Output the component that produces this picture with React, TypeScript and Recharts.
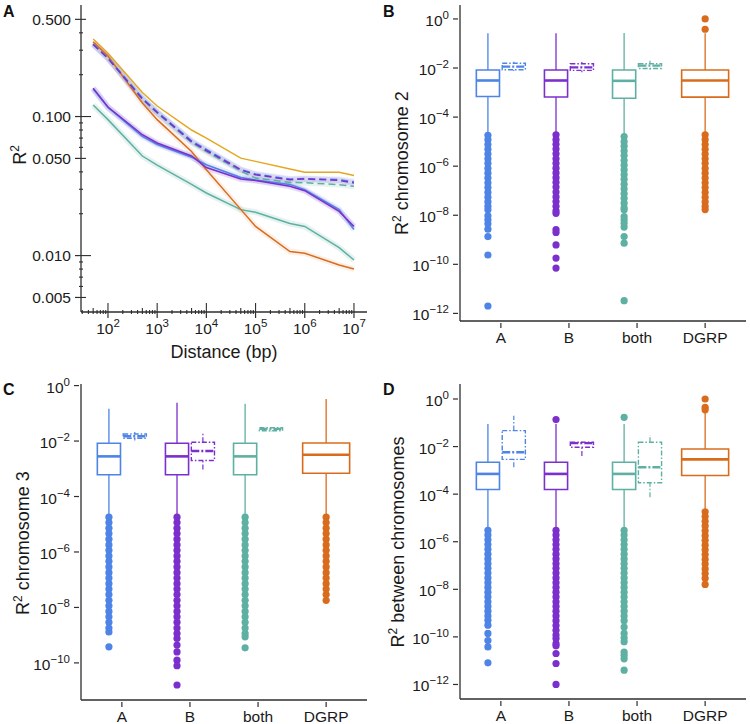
import React from 'react';
import {
  LineChart,
  Line,
  ComposedChart,
  XAxis,
  YAxis,
  Scatter,
  ReferenceArea,
  ReferenceLine,
} from 'recharts';

const FONT = '"Liberation Sans", Arial, Helvetica, sans-serif';
const INK = '#2e2e2e';

const BLUE = '#4d84e6';
const PURPLE = '#7b2fcd';
const TEAL = '#5eb0a3';
const ORANGE = '#d96c1c';
const GOLD = '#e6a620';

// ---- panel A: LD decay ----
const distances = [50, 100, 500, 1000, 5000, 10000, 50000, 100000, 500000, 1000000, 5000000, 10000000];
const goldR2 = [0.361, 0.285, 0.149, 0.119, 0.08, 0.07, 0.0502, 0.0476, 0.0419, 0.0398, 0.0398, 0.0377];
const dgrpR2 = [0.345, 0.272, 0.125, 0.095, 0.056, 0.0414, 0.0215, 0.0162, 0.0107, 0.0104, 0.00855, 0.008];
const blueDashR2 = [0.333, 0.264, 0.136, 0.108, 0.067, 0.058, 0.0416, 0.0386, 0.0355, 0.0358, 0.0352, 0.034];
const purpleDashR2 = [0.33, 0.262, 0.134, 0.107, 0.066, 0.057, 0.0414, 0.0381, 0.0351, 0.0356, 0.0347, 0.0333];
const tealDashR2 = [0.332, 0.262, 0.133, 0.106, 0.065, 0.056, 0.0405, 0.0361, 0.0336, 0.0334, 0.0324, 0.0315];
const purpleR2 = [0.16, 0.117, 0.074, 0.0645, 0.052, 0.043, 0.0355, 0.0347, 0.0315, 0.0293, 0.0208, 0.0162];
const blueR2 = [0.158, 0.116, 0.072, 0.063, 0.051, 0.045, 0.0365, 0.035, 0.0325, 0.0298, 0.0214, 0.0154];
const tealR2 = [0.121, 0.095, 0.052, 0.0447, 0.0325, 0.0282, 0.0214, 0.0205, 0.017, 0.0162, 0.0114, 0.0093];

const yTicksA = [0.5, 0.4, 0.3, 0.2, 0.1, 0.09, 0.08, 0.07, 0.06, 0.05, 0.04, 0.03, 0.02, 0.01, 0.009, 0.008, 0.007, 0.006, 0.005];
const yLabelsA = [0.5, 0.1, 0.05, 0.01, 0.005];
const xDecadesA = [100, 1000, 10000, 100000, 1000000, 10000000];

// ---- panels B-D: box plots ----
const groups = ['A', 'B', 'both', 'DGRP'];
// [lower whisker, q1, median, q3, upper whisker]
const chr2Main = [
  [2.0e-5, 6.9e-4, 3.1e-3, 8.3e-3, 0.26],
  [2.1e-5, 6.6e-4, 3.1e-3, 8.3e-3, 0.26],
  [1.8e-5, 5.9e-4, 3.0e-3, 8.3e-3, 0.27],
  [2.1e-5, 6.5e-4, 3.1e-3, 8.3e-3, 0.26],
];
const chr2Inset = [
  [0.0075, 0.0085, 0.0114, 0.0157, 0.018],
  [0.0068, 0.008, 0.0106, 0.015, 0.0175],
  [0.0085, 0.0095, 0.0125, 0.015, 0.02],
];
const chr2OutA = [1.8e-5, 1.2e-5, 7.6e-6, 4.9e-6, 3.1e-6, 2.0e-6, 1.3e-6, 8.1e-7, 5.2e-7, 3.3e-7, 2.1e-7, 1.35e-7, 8.5e-8, 5.4e-8, 3.5e-8, 2.3e-8, 1.66e-8, 9.5e-9, 6.5e-9, 4.5e-9, 2.7e-9, 1.35e-9, 2.4e-10, 2.0e-12];
const chr2OutB = [1.9e-5, 1.2e-5, 7.8e-6, 5.0e-6, 3.2e-6, 2.0e-6, 1.3e-6, 8.3e-7, 5.3e-7, 3.4e-7, 2.2e-7, 1.4e-7, 8.8e-8, 5.6e-8, 3.6e-8, 2.3e-8, 1.5e-8, 1.2e-8, 2.6e-9, 2.0e-9, 6.2e-10, 1.8e-10, 7e-11];
const chr2OutBoth = [1.6e-5, 1.0e-5, 6.5e-6, 4.2e-6, 2.7e-6, 1.7e-6, 1.1e-6, 7.0e-7, 4.5e-7, 2.9e-7, 1.85e-7, 1.2e-7, 7.6e-8, 4.9e-8, 3.1e-8, 2.0e-8, 1.66e-8, 8.9e-9, 6.5e-9, 4.7e-9, 3.3e-9, 1.35e-9, 7.3e-10, 3.3e-12];
const chr2OutDGRP = [1.0, 0.38, 1.9e-5, 1.2e-5, 7.6e-6, 4.9e-6, 3.1e-6, 2.0e-6, 1.3e-6, 8.1e-7, 5.2e-7, 3.3e-7, 2.1e-7, 1.35e-7, 8.5e-8, 5.4e-8, 3.5e-8, 2.3e-8, 1.7e-8];

const chr3Main = [
  [2.1e-5, 6.1e-4, 2.8e-3, 8.3e-3, 0.145],
  [2.1e-5, 6.1e-4, 2.8e-3, 8.3e-3, 0.24],
  [2.1e-5, 6.1e-4, 2.8e-3, 8.3e-3, 0.22],
  [2.1e-5, 6.9e-4, 3.2e-3, 8.5e-3, 0.33],
];
const chr3Inset = [
  [0.0105, 0.0126, 0.0149, 0.018, 0.021],
  [0.00095, 0.002, 0.0044, 0.0091, 0.019],
  [0.022, 0.0234, 0.0275, 0.03, 0.032],
];
const chr3OutA = [1.8e-5, 1.15e-5, 7.2e-6, 4.6e-6, 2.9e-6, 1.8e-6, 1.15e-6, 7.2e-7, 4.6e-7, 2.9e-7, 1.8e-7, 1.15e-7, 7.2e-8, 4.6e-8, 2.9e-8, 1.8e-8, 1.15e-8, 7.2e-9, 4.6e-9, 2.9e-9, 1.8e-9, 1.3e-9, 3.8e-10];
const chr3OutB = [1.8e-5, 1.15e-5, 7.2e-6, 4.6e-6, 2.9e-6, 1.8e-6, 1.15e-6, 7.2e-7, 4.6e-7, 2.9e-7, 1.8e-7, 1.15e-7, 7.2e-8, 4.6e-8, 2.9e-8, 1.8e-8, 1.15e-8, 7.2e-9, 4.6e-9, 2.9e-9, 1.8e-9, 1.15e-9, 7.6e-10, 4.4e-10, 2.5e-10, 1.26e-10, 7.9e-11, 1.6e-11];
const chr3OutBoth = [1.8e-5, 1.15e-5, 7.2e-6, 4.6e-6, 2.9e-6, 1.8e-6, 1.15e-6, 7.2e-7, 4.6e-7, 2.9e-7, 1.8e-7, 1.15e-7, 7.2e-8, 4.6e-8, 2.9e-8, 1.8e-8, 1.15e-8, 7.2e-9, 4.6e-9, 2.9e-9, 1.8e-9, 1.15e-9, 8.7e-10, 3.5e-10];
const chr3OutDGRP = [1.8e-5, 1.15e-5, 7.2e-6, 4.6e-6, 2.9e-6, 1.8e-6, 1.15e-6, 7.2e-7, 4.6e-7, 2.9e-7, 1.8e-7, 1.15e-7, 7.2e-8, 4.6e-8, 2.9e-8, 1.8e-8];

const betweenMain = [
  [3.5e-6, 1.58e-4, 7.1e-4, 2.2e-3, 0.089],
  [3.5e-6, 1.58e-4, 7.1e-4, 2.2e-3, 0.089],
  [3.5e-6, 1.58e-4, 7.1e-4, 2.2e-3, 0.089],
  [2.0e-5, 6.1e-4, 2.9e-3, 7.9e-3, 0.26],
];
const betweenInset = [
  [0.00135, 0.0029, 0.0058, 0.047, 0.2],
  [0.004, 0.0094, 0.0139, 0.0152, 0.016],
  [7.4e-5, 3.0e-4, 0.00135, 0.0152, 0.031],
];
const betweenOutA = [3.0e-6, 1.9e-6, 1.2e-6, 7.6e-7, 4.8e-7, 3.0e-7, 1.9e-7, 1.2e-7, 7.6e-8, 4.8e-8, 3.0e-8, 1.9e-8, 1.2e-8, 7.6e-9, 4.8e-9, 3.0e-9, 1.9e-9, 1.2e-9, 7.6e-10, 5.0e-10, 3.1e-10, 1.4e-10, 7e-11, 3.8e-11, 8.1e-12];
const betweenOutB = [0.136, 3.0e-6, 1.9e-6, 1.2e-6, 7.6e-7, 4.8e-7, 3.0e-7, 1.9e-7, 1.2e-7, 7.6e-8, 4.8e-8, 3.0e-8, 1.9e-8, 1.2e-8, 7.6e-9, 4.8e-9, 3.0e-9, 1.9e-9, 1.2e-9, 7.6e-10, 4.8e-10, 3.0e-10, 1.9e-10, 1.2e-10, 8.5e-11, 5.2e-11, 4.2e-11, 2e-11, 7.6e-12, 1e-12];
const betweenOutBoth = [0.17, 3.0e-6, 1.9e-6, 1.2e-6, 7.6e-7, 4.8e-7, 3.0e-7, 1.9e-7, 1.2e-7, 7.6e-8, 4.8e-8, 3.0e-8, 1.9e-8, 1.2e-8, 7.6e-9, 4.8e-9, 3.0e-9, 1.9e-9, 1.2e-9, 7.6e-10, 4.8e-10, 2.6e-10, 1.4e-10, 9.1e-11, 6.3e-11, 2.3e-11, 1.7e-11, 1.2e-11, 4e-12];
const betweenOutDGRP = [1.0, 0.45, 0.35, 1.8e-5, 1.15e-5, 7.2e-6, 4.6e-6, 2.9e-6, 1.8e-6, 1.15e-6, 7.2e-7, 4.6e-7, 2.9e-7, 1.8e-7, 1.15e-7, 7.2e-8, 4.6e-8, 2.9e-8, 1.6e-8];

const boxTicks12 = [1, 1e-2, 1e-4, 1e-6, 1e-8, 1e-10, 1e-12];
const boxTicks10 = [1, 1e-2, 1e-4, 1e-6, 1e-8, 1e-10];

const groupColors = [BLUE, PURPLE, TEAL, ORANGE];
const DODGE = 0.19;
const HALF = 0.17;
const HALF_WIDE = 0.345;

// minor log ticks for the distance axis
const xTicksA: number[] = [];
for (let m = 3; m <= 9; m++) xTicksA.push(m * 10);
xDecadesA.forEach((d) => {
  for (let m = 1; m <= 9; m++) if (d * m <= 10000000) xTicksA.push(d * m);
});

const mantissa = (v: number) => {
  const e = Math.floor(Math.log10(v) + 1e-9);
  return { e, m: Math.round(v / Math.pow(10, e)) };
};

const LogYTickA = (props: any) => {
  const { x, y, payload } = props;
  const v = payload.value;
  const { m } = mantissa(v);
  const len = m === 1 ? 12 : m === 5 ? 7 : 4;
  const labeled = yLabelsA.some((l) => Math.abs(l - v) < 1e-9);
  return (
    <g>
      <line x1={x} x2={x + len} y1={y} y2={y} stroke={INK} strokeWidth={1.1} />
      {labeled && <line x1={x - 4} x2={x} y1={y} y2={y} stroke={INK} strokeWidth={1.2} />}
      {labeled && (
        <text x={x - 8} y={y + 5.5} textAnchor="end" fontSize={15.5} fontFamily={FONT} fill="#1a1a1a">
          {v.toFixed(3)}
        </text>
      )}
    </g>
  );
};

const LogXTickA = (props: any) => {
  const { x, y, payload } = props;
  const { e, m } = mantissa(payload.value);
  const len = m === 1 ? 11 : m === 5 ? 6 : 4;
  return (
    <g>
      <line x1={x} x2={x} y1={y} y2={y - len} stroke={INK} strokeWidth={1.1} />
      {m === 1 && <line x1={x} x2={x} y1={y} y2={y + 4} stroke={INK} strokeWidth={1.2} />}
      {m === 1 && (
        <text x={x} y={y + 19.5} textAnchor="middle" fontSize={15.5} fontFamily={FONT} fill="#1a1a1a">
          10<tspan fontSize={11.5} dy={-7}>{e}</tspan>
        </text>
      )}
    </g>
  );
};

const PowTick = (props: any) => {
  const { x, y, payload } = props;
  const e = Math.round(Math.log10(payload.value));
  return (
    <g>
      <line x1={x - 5} x2={x} y1={y} y2={y} stroke={INK} strokeWidth={1.2} />
      <text x={x - 9} y={y + 7} textAnchor="end" fontSize={15.5} fontFamily={FONT} fill="#1a1a1a">
        10<tspan fontSize={11.5} dy={-7}>{e === 0 ? '0' : '\u2212' + Math.abs(e)}</tspan>
      </text>
    </g>
  );
};

const CatTick = (props: any) => {
  const { x, y, payload } = props;
  return (
    <g>
      <line x1={x} x2={x} y1={y} y2={y + 5} stroke={INK} strokeWidth={1.2} />
      <text x={x} y={y + 20} textAnchor="middle" fontSize={15.5} fontFamily={FONT} fill="#1a1a1a">
        {groups[payload.value - 1]}
      </text>
    </g>
  );
};

const axisLineStyle = { stroke: INK, strokeWidth: 1.3 };

const lineRows = distances.map((d, i) => ({
  d,
  gold: goldR2[i],
  dgrp: dgrpR2[i],
  blueDash: blueDashR2[i],
  purpleDash: purpleDashR2[i],
  tealDash: tealDashR2[i],
  purple: purpleR2[i],
  blue: blueR2[i],
  teal: tealR2[i],
}));

const lineSeries = [
  { key: 'teal', color: TEAL, dash: undefined, band: 0.16 },
  { key: 'dgrp', color: ORANGE, dash: undefined, band: 0.1 },
  { key: 'blue', color: BLUE, dash: undefined, band: 0.14 },
  { key: 'purple', color: PURPLE, dash: undefined, band: 0.16 },
  { key: 'gold', color: GOLD, dash: undefined, band: 0 },
  { key: 'tealDash', color: TEAL, dash: '7 4', band: 0.14 },
  { key: 'blueDash', color: BLUE, dash: '7 4', band: 0.12 },
  { key: 'purpleDash', color: PURPLE, dash: '7 4', band: 0.12 },
];

const DecayPanel = () => (
  <LineChart width={375} height={362} data={lineRows} margin={{ top: 5, right: 8, left: 0, bottom: 0 }}>
    <XAxis
      type="number"
      dataKey="d"
      scale="log"
      domain={[28.3, 1.84e7]}
      allowDataOverflow
      ticks={xTicksA}
      interval={0}
      tickSize={0}
      tickLine={false}
      tick={<LogXTickA />}
      axisLine={axisLineStyle}
      height={50}
    />
    <YAxis
      type="number"
      scale="log"
      domain={[0.00393, 0.634]}
      allowDataOverflow
      ticks={yTicksA}
      interval={0}
      tickSize={0}
      tickLine={false}
      tick={<LogYTickA />}
      axisLine={axisLineStyle}
      width={81}
    />
    {lineSeries
      .filter((s) => s.band > 0)
      .map((s) => (
        <Line
          key={'band-' + s.key}
          dataKey={s.key}
          stroke={s.color}
          strokeOpacity={s.band}
          strokeWidth={6}
          dot={false}
          activeDot={false}
          isAnimationActive={false}
        />
      ))}
    {lineSeries.map((s) => (
      <Line
        key={s.key}
        dataKey={s.key}
        stroke={s.color}
        strokeWidth={1.5}
        strokeDasharray={s.dash}
        dot={false}
        activeDot={false}
        isAnimationActive={false}
      />
    ))}
  </LineChart>
);

type BoxPanelProps = {
  main: number[][];
  inset: number[][];
  outliers: number[][];
  yDomain: [number, number];
  yTicks: number[];
  yWidth: number;
  top: number;
  right: number;
  xHeight: number;
};

const BoxPanel = ({ main, inset, outliers, yDomain, yTicks, yWidth, top, right, xHeight }: BoxPanelProps) => {
  const items: React.ReactElement[] = [];
  main.forEach((s, i) => {
    const color = groupColors[i];
    const c = i < 3 ? i + 1 - DODGE : i + 1;
    const hw = i < 3 ? HALF : HALF_WIDE;
    const [lo, q1, med, q3, hi] = s;
    items.push(
      <ReferenceLine key={`wl${i}`} segment={[{ x: c, y: lo }, { x: c, y: q1 }]} stroke={color} strokeWidth={1.3} />,
      <ReferenceLine key={`wh${i}`} segment={[{ x: c, y: q3 }, { x: c, y: hi }]} stroke={color} strokeWidth={1.3} />,
      <ReferenceArea key={`bx${i}`} x1={c - hw} x2={c + hw} y1={q1} y2={q3} fill="#fff" fillOpacity={0} stroke={color} strokeWidth={1.6} strokeOpacity={1} />,
      <ReferenceLine key={`md${i}`} segment={[{ x: c - hw, y: med }, { x: c + hw, y: med }]} stroke={color} strokeWidth={2.6} />,
    );
  });
  inset.forEach((s, i) => {
    const color = groupColors[i];
    const c = i + 1 + DODGE;
    const [lo, q1, med, q3, hi] = s;
    const dash = '5 2 1.5 2';
    items.push(
      <ReferenceLine key={`iwl${i}`} segment={[{ x: c, y: lo }, { x: c, y: q1 }]} stroke={color} strokeWidth={1.2} strokeDasharray={dash} />,
      <ReferenceLine key={`iwh${i}`} segment={[{ x: c, y: q3 }, { x: c, y: hi }]} stroke={color} strokeWidth={1.2} strokeDasharray={dash} />,
      <ReferenceArea key={`ibx${i}`} x1={c - HALF} x2={c + HALF} y1={q1} y2={q3} fill="#fff" fillOpacity={0} stroke={color} strokeWidth={1.4} strokeOpacity={1} strokeDasharray={dash} />,
      <ReferenceLine key={`imd${i}`} segment={[{ x: c - HALF, y: med }, { x: c + HALF, y: med }]} stroke={color} strokeWidth={2.4} strokeDasharray="8 2 2 2" />,
    );
  });
  return (
    <ComposedChart width={375} height={362} margin={{ top, right, left: 0, bottom: 0 }}>
      <XAxis
        type="number"
        dataKey="x"
        domain={[0.4, 4.6]}
        allowDataOverflow
        ticks={[1, 2, 3, 4]}
        interval={0}
        tickSize={0}
        tickLine={false}
        tick={<CatTick />}
        axisLine={axisLineStyle}
        height={xHeight}
      />
      <YAxis
        type="number"
        dataKey="y"
        scale="log"
        domain={yDomain}
        allowDataOverflow
        ticks={yTicks}
        interval={0}
        tickSize={0}
        tickLine={false}
        tick={<PowTick />}
        axisLine={axisLineStyle}
        width={yWidth}
      />
      {items}
      {outliers.map((vals, i) => {
        const color = groupColors[i];
        const c = i < 3 ? i + 1 - DODGE : i + 1;
        return (
          <Scatter
            key={`out${i}`}
            data={vals.map((v) => ({ x: c, y: v }))}
            fill={color}
            isAnimationActive={false}
            shape={(p: any) => <circle cx={p.cx} cy={p.cy} r={3.6} fill={color} />}
          />
        );
      })}
    </ComposedChart>
  );
};

const Sup2 = () => (
  <span style={{ fontSize: 12, lineHeight: 0, position: 'relative', top: -7 }}>2</span>
);

const VTitle = ({ cx, cy, children }: { cx: number; cy: number; children: React.ReactNode }) => (
  <div
    style={{
      position: 'absolute',
      left: cx,
      top: cy,
      transform: 'translate(-50%, -50%) rotate(-90deg)',
      whiteSpace: 'nowrap',
      fontSize: 18,
      lineHeight: '20px',
      fontFamily: FONT,
      color: '#1a1a1a',
    }}
  >
    {children}
  </div>
);

const PanelLetter = ({ x, y, text }: { x: number; y: number; text: string }) => (
  <div style={{ position: 'absolute', left: x, top: y, fontSize: 16, fontWeight: 700, fontFamily: FONT, lineHeight: '16px', color: '#111' }}>
    {text}
  </div>
);

const Panel = ({ x, y, children }: { x: number; y: number; children: React.ReactNode }) => (
  <div style={{ position: 'absolute', left: x, top: y, width: 375, height: 362 }}>{children}</div>
);

export default function App() {
  return (
    <div style={{ position: 'absolute', left: 0, top: 0, width: 750, height: 724, background: '#fff', fontFamily: FONT }}>
      <Panel x={0} y={0}>
        <DecayPanel />
      </Panel>
      <Panel x={375} y={0}>
        <BoxPanel
          main={chr2Main}
          inset={chr2Inset}
          outliers={[chr2OutA, chr2OutB, chr2OutBoth, chr2OutDGRP]}
          yDomain={[4.9e-13, 3.7]}
          yTicks={boxTicks12}
          yWidth={85}
          top={5}
          right={4}
          xHeight={41}
        />
      </Panel>
      <Panel x={0} y={362}>
        <BoxPanel
          main={chr3Main}
          inset={chr3Inset}
          outliers={[chr3OutA, chr3OutB, chr3OutBoth, chr3OutDGRP]}
          yDomain={[4.6e-12, 1.14]}
          yTicks={boxTicks10}
          yWidth={81}
          top={22}
          right={8}
          xHeight={24}
        />
      </Panel>
      <Panel x={375} y={362}>
        <BoxPanel
          main={betweenMain}
          inset={betweenInset}
          outliers={[betweenOutA, betweenOutB, betweenOutBoth, betweenOutDGRP]}
          yDomain={[2.45e-13, 4.27]}
          yTicks={boxTicks12}
          yWidth={85}
          top={22}
          right={4}
          xHeight={25}
        />
      </Panel>

      <PanelLetter x={3} y={4} text="A" />
      <PanelLetter x={383} y={4} text="B" />
      <PanelLetter x={3} y={382} text="C" />
      <PanelLetter x={383} y={382} text="D" />

      <VTitle cx={20} cy={155}>
        R<Sup2 />
      </VTitle>
      <VTitle cx={402} cy={163}>
        R<Sup2 /> chromosome 2
      </VTitle>
      <VTitle cx={23} cy={543}>
        R<Sup2 /> chromosome 3
      </VTitle>
      <VTitle cx={398} cy={542}>
        R<Sup2 /> between chromosomes
      </VTitle>
      <div
        style={{
          position: 'absolute',
          left: 224,
          top: 352,
          transform: 'translate(-50%, -50%)',
          whiteSpace: 'nowrap',
          fontSize: 18,
          lineHeight: '20px',
          fontFamily: FONT,
          color: '#1a1a1a',
        }}
      >
        Distance (bp)
      </div>
    </div>
  );
}
